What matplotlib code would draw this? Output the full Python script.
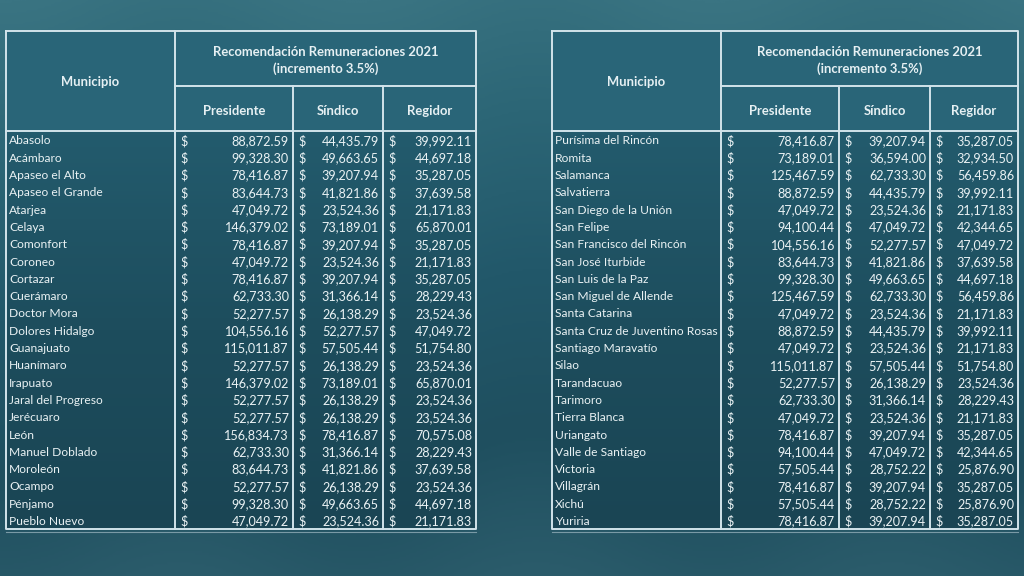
import numpy as np
import matplotlib
matplotlib.use("Agg")
import matplotlib.pyplot as plt
from matplotlib.colors import LinearSegmentedColormap

plt.rcParams['font.family'] = ['Lato', 'DejaVu Sans']

title_line1 = "Recomendación Remuneraciones 2021"
title_line2 = "(incremento 3.5%)"
col_headers = ["Presidente", "Síndico", "Regidor"]
muni_header = "Municipio"

left_munis = ["Abasolo", "Acámbaro", "Apaseo el Alto", "Apaseo el Grande", "Atarjea", "Celaya",
              "Comonfort", "Coroneo", "Cortazar", "Cuerámaro", "Doctor Mora", "Dolores Hidalgo",
              "Guanajuato", "Huanímaro", "Irapuato", "Jaral del Progreso", "Jerécuaro", "León",
              "Manuel Doblado", "Moroleón", "Ocampo", "Pénjamo", "Pueblo Nuevo"]
left_presidente = [88872.59, 99328.30, 78416.87, 83644.73, 47049.72, 146379.02, 78416.87, 47049.72,
                   78416.87, 62733.30, 52277.57, 104556.16, 115011.87, 52277.57, 146379.02, 52277.57,
                   52277.57, 156834.73, 62733.30, 83644.73, 52277.57, 99328.30, 47049.72]
left_sindico = [44435.79, 49663.65, 39207.94, 41821.86, 23524.36, 73189.01, 39207.94, 23524.36,
                39207.94, 31366.14, 26138.29, 52277.57, 57505.44, 26138.29, 73189.01, 26138.29,
                26138.29, 78416.87, 31366.14, 41821.86, 26138.29, 49663.65, 23524.36]
left_regidor = [39992.11, 44697.18, 35287.05, 37639.58, 21171.83, 65870.01, 35287.05, 21171.83,
                35287.05, 28229.43, 23524.36, 47049.72, 51754.80, 23524.36, 65870.01, 23524.36,
                23524.36, 70575.08, 28229.43, 37639.58, 23524.36, 44697.18, 21171.83]

right_munis = ["Purísima del Rincón", "Romita", "Salamanca", "Salvatierra", "San Diego de la Unión",
               "San Felipe", "San Francisco del Rincón", "San José Iturbide", "San Luis de la Paz",
               "San Miguel de Allende", "Santa Catarina", "Santa Cruz de Juventino Rosas",
               "Santiago Maravatío", "Silao", "Tarandacuao", "Tarimoro", "Tierra Blanca", "Uriangato",
               "Valle de Santiago", "Victoria", "Villagrán", "Xichú", "Yuriria"]
right_presidente = [78416.87, 73189.01, 125467.59, 88872.59, 47049.72, 94100.44, 104556.16, 83644.73,
                    99328.30, 125467.59, 47049.72, 88872.59, 47049.72, 115011.87, 52277.57, 62733.30,
                    47049.72, 78416.87, 94100.44, 57505.44, 78416.87, 57505.44, 78416.87]
right_sindico = [39207.94, 36594.00, 62733.30, 44435.79, 23524.36, 47049.72, 52277.57, 41821.86,
                 49663.65, 62733.30, 23524.36, 44435.79, 23524.36, 57505.44, 26138.29, 31366.14,
                 23524.36, 39207.94, 47049.72, 28752.22, 39207.94, 28752.22, 39207.94]
right_regidor = [35287.05, 32934.50, 56459.86, 39992.11, 21171.83, 42344.65, 47049.72, 37639.58,
                 44697.18, 56459.86, 21171.83, 39992.11, 21171.83, 51754.80, 23524.36, 28229.43,
                 21171.83, 35287.05, 42344.65, 25876.90, 35287.05, 25876.90, 35287.05]

W, H = 1024, 576
fig = plt.figure(figsize=(W / 100, H / 100), dpi=100)
ax = fig.add_axes([0, 0, 1, 1])
ax.set_xlim(0, W)
ax.set_ylim(H, 0)
ax.axis('off')

# background gradient
bg_cmap = LinearSegmentedColormap.from_list("bg", ["#3a7482", "#2c6676", "#22586a", "#1f4f5f", "#2c5d6c"])
yy = np.linspace(0, 1, 300)[:, None]
xx = np.linspace(0, 1, 300)[None, :]
grad = yy * 0.9 + 0.08 * np.sin(xx * 9) ** 2
ax.imshow(grad, extent=[0, W, H, 0], cmap=bg_cmap, aspect='auto', zorder=0, vmin=0, vmax=1)

body_cmap = LinearSegmentedColormap.from_list("body", ["#235b6d", "#1d4d5d", "#1a4554"])

line_c = "#d2e4eb"
text_c = "#eaf2f4"
hdr_c = "#e6f0f3"
fs = 9.1
fs_name = 8.65
dy = 1.3


def fmt(v):
    return f"{v:,.2f}"


def draw_table(cols, munis, pres, sind, reg):
    # cols: x positions of [left, div1, div2, div3, right]
    top, mid, hbot = 31, 86, 131
    rh = 17.3
    n = len(munis)
    bot = hbot + n * rh
    left, right = cols[0], cols[-1]
    # fills
    ax.fill_between([left, right], top, hbot, color="#296578", zorder=1)
    ax.imshow(np.linspace(0, 1, 100)[:, None], extent=[left, right, bot, hbot], cmap=body_cmap,
              aspect='auto', zorder=1)
    lw = 1.4
    # outer border
    ax.plot([left, right, right, left, left], [top, top, bot, bot, top], color=line_c, lw=lw, zorder=3)
    # header lines
    ax.plot([cols[1], right], [mid, mid], color=line_c, lw=lw, zorder=3)
    ax.plot([left, right], [hbot, hbot], color=line_c, lw=lw, zorder=3)
    ax.plot([cols[1], cols[1]], [top, bot], color=line_c, lw=lw, zorder=3)
    for c in cols[2:4]:
        ax.plot([c, c], [mid, bot], color=line_c, lw=lw, zorder=3)
    ax.plot([left, right], [bot + 3, bot + 3], color="#7a9aa6", lw=0.8, zorder=3)
    # header text
    ax.text((left + cols[1]) / 2, (top + hbot) / 2 + dy, muni_header, ha='center', va='center',
            fontsize=fs + 0.3, fontweight='bold', color=hdr_c, zorder=4)
    ax.text((cols[1] + right) / 2, (top + mid) / 2 + dy + 0.5, title_line1 + "\n" + title_line2,
            ha='center', va='center', fontsize=fs + 0.3, fontweight='bold', color=hdr_c,
            linespacing=1.45, zorder=4)
    for i, h in enumerate(col_headers):
        ax.text((cols[1 + i] + cols[2 + i]) / 2, (mid + hbot) / 2 + dy + 1.5, h, ha='center',
                va='center', fontsize=fs + 0.3, fontweight='bold', color=hdr_c, zorder=4)
    # body
    vals = [pres, sind, reg]
    for r in range(n):
        yc = hbot + rh * (r + 0.5) + dy
        ax.text(left + 3, yc, munis[r], ha='left', va='center', fontsize=fs_name, color=text_c, zorder=4)
        for k in range(3):
            ax.text(cols[1 + k] + 5, yc, "$", ha='left', va='center', fontsize=fs, color=text_c, zorder=4)
            ax.text(cols[2 + k] - 4, yc, fmt(vals[k][r]), ha='right', va='center', fontsize=fs,
                    color=text_c, zorder=4)


draw_table([6, 175, 293, 383, 476], left_munis, left_presidente, left_sindico, left_regidor)
draw_table([552, 721, 839, 930, 1018], right_munis, right_presidente, right_sindico, right_regidor)

fig.savefig("out.png", dpi=100)
